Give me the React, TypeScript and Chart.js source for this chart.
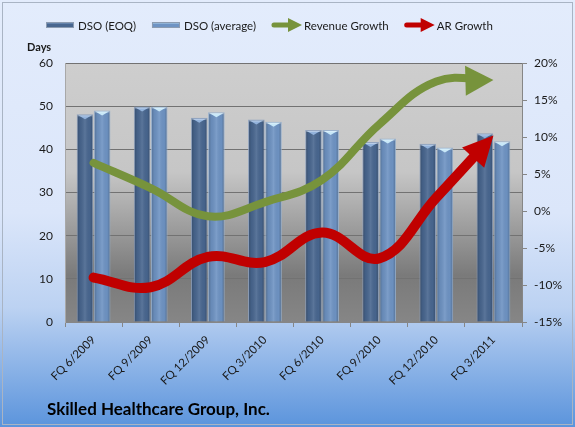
import React, { useEffect, useRef } from 'react';
import { Chart, registerables } from 'chart.js';

Chart.register(...registerables);

const categories = ['FQ 6/2009', 'FQ 9/2009', 'FQ 12/2009', 'FQ 3/2010', 'FQ 6/2010', 'FQ 9/2010', 'FQ 12/2010', 'FQ 3/2011'];
const dsoEoq = [48.1, 49.9, 47.3, 46.9, 44.5, 41.7, 41.3, 43.7];
const dsoAvg = [49.0, 49.9, 48.6, 46.4, 44.5, 42.5, 40.4, 41.9];
const revenueGrowth = [6.5, 3.1, -0.7, 1.2, 4.2, 11.7, 17.5, 17.7];
const arGrowth = [-9.0, -10.3, -6.2, -6.9, -2.9, -6.4, 1.8, 10.2];
const daysMin = 0;
const daysMax = 60;
const daysStep = 10;
const pctMin = -15;
const pctMax = 20;
const pctStep = 5;
const titleText = 'Skilled Healthcare Group, Inc.';
const daysLabel = 'Days';

const FONT = 'Lato, "Open Sans", sans-serif';
const TEXT = '#1a1a1a';

const backgroundPlugin = {
  id: 'bgPlugin',
  beforeDraw(chart: any) {
    const { ctx, width, height, chartArea: a } = chart;
    ctx.save();
    const g = ctx.createLinearGradient(0, 0, 0, height);
    g.addColorStop(0, '#e3ecfc');
    g.addColorStop(0.5, '#dbe6fa');
    g.addColorStop(0.72, '#bcd2f2');
    g.addColorStop(1, '#5b94dc');
    ctx.fillStyle = g;
    ctx.fillRect(0, 0, width, height);
    ctx.strokeStyle = '#a9b4c4';
    ctx.lineWidth = 1;
    ctx.strokeRect(2.5, 2.5, width - 5, height - 5);
    const pg = ctx.createLinearGradient(0, a.top, 0, a.bottom);
    pg.addColorStop(0, '#cecece');
    pg.addColorStop(0.42, '#c6c6c6');
    pg.addColorStop(0.82, '#7a7a7a');
    pg.addColorStop(1, '#868686');
    ctx.fillStyle = pg;
    ctx.fillRect(a.left, a.top, a.right - a.left, a.bottom - a.top);
    ctx.restore();
  },
};

const barLookPlugin = {
  id: 'barLook',
  afterDatasetDraw(chart: any, args: any) {
    const meta = args.meta;
    if (meta.type !== 'bar') return;
    const ds: any = chart.data.datasets[args.index];
    const { ctx } = chart;
    ctx.save();
    meta.data.forEach((el: any) => {
      const { x, y, base, width } = el.getProps(['x', 'y', 'base', 'width'], true);
      const left = x - width / 2;
      const right = x + width / 2;
      const g = ctx.createLinearGradient(left, 0, right, 0);
      g.addColorStop(0, 'rgba(0,0,0,0.25)');
      g.addColorStop(0.2, 'rgba(0,0,0,0.06)');
      g.addColorStop(0.5, 'rgba(255,255,255,0.10)');
      g.addColorStop(0.8, 'rgba(0,0,0,0.02)');
      g.addColorStop(1, 'rgba(0,0,0,0.25)');
      ctx.fillStyle = g;
      ctx.fillRect(left + 1, y + 1, width - 2, base - y - 1);
      ctx.fillStyle = ds.capColor;
      ctx.beginPath();
      ctx.moveTo(left + 1.5, y + 1);
      ctx.lineTo(right - 1.5, y + 1);
      ctx.lineTo(x, y + 5);
      ctx.closePath();
      ctx.fill();
      ctx.fillStyle = 'rgba(255,255,255,0.35)';
      ctx.fillRect(left + 1, y + 1, width - 2, 1);
    });
    ctx.restore();
  },
};

function arrowGeom(chart: any, index: number) {
  const meta = chart.getDatasetMeta(index);
  const pts = meta.data;
  const last = pts[pts.length - 1];
  const prev = pts[pts.length - 2];
  let dx = last.x - (last.cp1x ?? prev.x);
  let dy = last.y - (last.cp1y ?? prev.y);
  if (!isFinite(dx) || !isFinite(dy) || (dx === 0 && dy === 0)) {
    dx = last.x - prev.x;
    dy = last.y - prev.y;
  }
  const len = Math.hypot(dx, dy) || 1;
  dx /= len;
  dy /= len;
  return { tx: last.x, ty: last.y, dx, dy, nx: -dy, ny: dx };
}

const arrowPlugin = {
  id: 'arrowEnds',
  beforeDatasetDraw(chart: any, args: any) {
    if (args.meta.type !== 'line') return;
    const ds: any = chart.data.datasets[args.index];
    const { tx, ty, dx, dy, nx, ny } = arrowGeom(chart, args.index);
    const L = ds.arrowLength;
    const cx = tx - dx * (L - 5);
    const cy = ty - dy * (L - 5);
    const { ctx } = chart;
    ctx.save();
    const R = 3000;
    ctx.beginPath();
    ctx.moveTo(cx + nx * R, cy + ny * R);
    ctx.lineTo(cx + nx * R - dx * R, cy + ny * R - dy * R);
    ctx.lineTo(cx - nx * R - dx * R, cy - ny * R - dy * R);
    ctx.lineTo(cx - nx * R, cy - ny * R);
    ctx.closePath();
    ctx.clip();
  },
  afterDatasetDraw(chart: any, args: any) {
    if (args.meta.type !== 'line') return;
    const { ctx } = chart;
    ctx.restore();
    const ds: any = chart.data.datasets[args.index];
    const { tx, ty, dx, dy, nx, ny } = arrowGeom(chart, args.index);
    const L = ds.arrowLength;
    const W = ds.arrowHalfWidth;
    const bx = tx - dx * L;
    const by = ty - dy * L;
    ctx.save();
    ctx.fillStyle = ds.borderColor;
    ctx.beginPath();
    ctx.moveTo(tx, ty);
    ctx.lineTo(bx + nx * W, by + ny * W);
    ctx.lineTo(bx - nx * W, by - ny * W);
    ctx.closePath();
    ctx.fill();
    ctx.restore();
  },
};

const textPlugin = {
  id: 'texts',
  afterDraw(chart: any) {
    const { ctx } = chart;
    ctx.save();
    // legend
    ctx.font = `11.5px ${FONT}`;
    ctx.textBaseline = 'middle';
    ctx.textAlign = 'left';
    let x = 46;
    const ly = 25;
    chart.data.datasets.forEach((ds: any) => {
      if (ds.type === 'line') {
        ctx.strokeStyle = ds.borderColor;
        ctx.lineWidth = 5;
        ctx.lineCap = 'round';
        ctx.beginPath();
        ctx.moveTo(x + 2, ly);
        ctx.lineTo(x + 18, ly);
        ctx.stroke();
        ctx.fillStyle = ds.borderColor;
        ctx.beginPath();
        ctx.moveTo(x + 30, ly);
        ctx.lineTo(x + 16, ly - 7);
        ctx.lineTo(x + 16, ly + 7);
        ctx.closePath();
        ctx.fill();
      } else {
        const g = ctx.createLinearGradient(0, ly - 3, 0, ly + 3);
        g.addColorStop(0, ds.capColor);
        g.addColorStop(0.4, ds.backgroundColor);
        g.addColorStop(1, ds.backgroundColor);
        ctx.fillStyle = g;
        ctx.fillRect(x, ly - 3, 28, 6);
        ctx.strokeStyle = '#8c9bb0';
        ctx.lineWidth = 1;
        ctx.strokeRect(x + 0.5, ly - 2.5, 27, 5);
      }
      x += 32;
      ctx.fillStyle = TEXT;
      ctx.fillText(ds.label, x, ly + 1);
      x += ctx.measureText(ds.label).width + 16;
    });
    // axis label
    ctx.font = `bold 11px ${FONT}`;
    ctx.fillText(daysLabel, 27, 47);
    // title
    ctx.font = `bold 17px ${FONT}`;
    ctx.fillStyle = '#000';
    ctx.fillText(titleText, 47, 410);
    ctx.restore();
  },
};

export default function App() {
  const ref = useRef<HTMLCanvasElement | null>(null);
  useEffect(() => {
    document.body.style.margin = '0';
    const canvas = ref.current!;
    const chart = new Chart(canvas, {
      type: 'bar',
      data: {
        labels: categories,
        datasets: [
          {
            type: 'bar',
            label: 'DSO (EOQ)',
            data: dsoEoq,
            yAxisID: 'y',
            backgroundColor: '#48668f',
            capColor: '#93b3dc',
            borderColor: 'rgba(140,160,190,0.9)',
            borderWidth: 1,
            barPercentage: 0.97,
            categoryPercentage: 0.6,
            order: 2,
          } as any,
          {
            type: 'bar',
            label: 'DSO (average)',
            data: dsoAvg,
            yAxisID: 'y',
            backgroundColor: '#6e93c3',
            capColor: '#c8e8f8',
            borderColor: 'rgba(150,175,205,0.9)',
            borderWidth: 1,
            barPercentage: 0.97,
            categoryPercentage: 0.6,
            order: 2,
          } as any,
          {
            type: 'line',
            label: 'Revenue Growth',
            data: revenueGrowth,
            yAxisID: 'y1',
            borderColor: '#77933c',
            backgroundColor: '#77933c',
            borderWidth: 8,
            borderCapStyle: 'round',
            tension: 0.4,
            pointRadius: 0,
            arrowLength: 28,
            arrowHalfWidth: 15,
            order: 1,
          } as any,
          {
            type: 'line',
            label: 'AR Growth',
            data: arGrowth,
            yAxisID: 'y1',
            borderColor: '#c00000',
            backgroundColor: '#c00000',
            borderWidth: 10,
            borderCapStyle: 'round',
            tension: 0.4,
            pointRadius: 0,
            arrowLength: 30,
            arrowHalfWidth: 15,
            order: 0,
          } as any,
        ],
      },
      options: {
        responsive: false,
        animation: false,
        devicePixelRatio: 1,
        events: [],
        layout: { padding: { top: 63, left: 0, right: 0, bottom: 0 } },
        plugins: {
          legend: { display: false },
          title: { display: false },
          tooltip: { enabled: false },
        },
        scales: {
          x: {
            grid: { offset: true, drawOnChartArea: false, drawTicks: true, tickLength: 5, color: '#868686' },
            border: { color: '#868686' },
            ticks: { minRotation: 45, maxRotation: 45, autoSkip: false, padding: 6, color: TEXT, font: { family: FONT, size: 11.5 } },
            afterFit(s: any) { s.height = 105; },
          },
          y: {
            position: 'left',
            min: daysMin,
            max: daysMax,
            ticks: { stepSize: daysStep, padding: 12, color: TEXT, font: { family: FONT, size: 12 } },
            grid: { color: '#727272', drawTicks: false },
            border: { color: '#a8a8a8' },
            afterFit(s: any) { s.width = 65; },
          },
          y1: {
            position: 'right',
            min: pctMin,
            max: pctMax,
            ticks: { stepSize: pctStep, padding: 7, color: TEXT, font: { family: FONT, size: 12 }, callback: (v: any) => `${v}%` },
            grid: { drawOnChartArea: false, tickLength: 5, color: '#868686' },
            border: { color: '#868686' },
            afterFit(s: any) { s.width = 53; },
          },
        },
      } as any,
      plugins: [backgroundPlugin, barLookPlugin, arrowPlugin, textPlugin],
    });
    return () => chart.destroy();
  }, []);
  return <canvas ref={ref} width={575} height={427} style={{ display: 'block', width: 575, height: 427 }} />;
}
